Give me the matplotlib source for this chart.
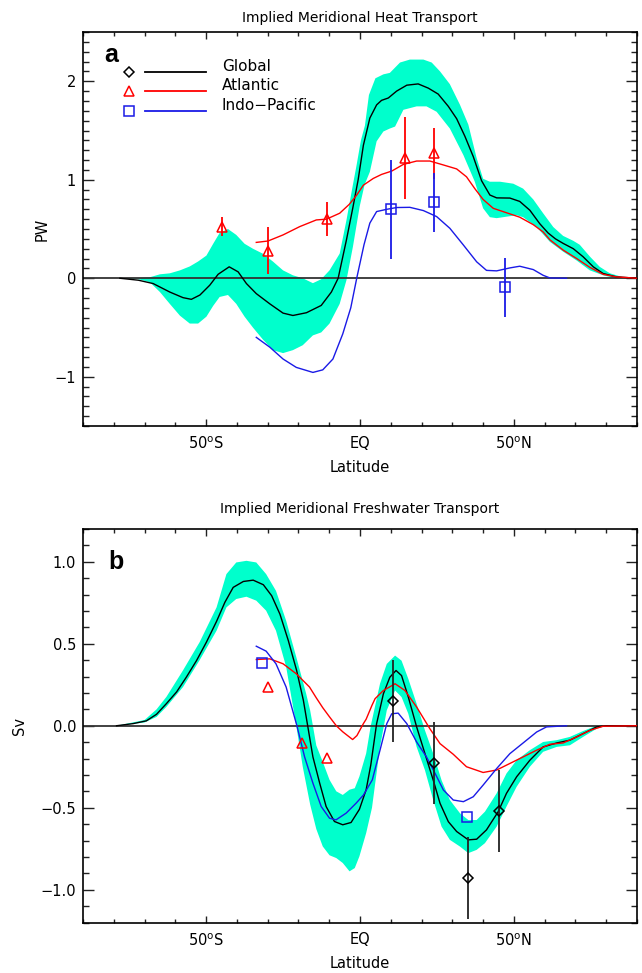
import numpy as np
import matplotlib
matplotlib.use("Agg")
import matplotlib.pyplot as plt
from matplotlib.ticker import MultipleLocator, FixedLocator, FixedFormatter

# ---------------- Panel a : heat transport (PW) ----------------
a_glob_lat = [-78, -72, -67.2, -61.8, -57.5, -54.8, -52, -48.8, -46.1, -42.5, -39.6, -36.9, -33.7,
              -29.3, -25, -21.8, -17.4, -12.6, -9.3, -7.1, -4.4, -2.3, -0.6, 1.1, 3.2, 5.4, 7.0, 9.2,
              11.9, 15.2, 18.9, 22.2, 25.4, 28.7, 31.4, 34.1, 36.8, 39.5, 42.2, 44.4, 48.7, 51.9, 55.2,
              58.4, 61.1, 63.5, 66, 69.3, 72.5, 75.8, 79, 83.3, 90]
a_glob_val = [0.0, -0.02, -0.054, -0.14, -0.197, -0.214, -0.17, -0.07, 0.04, 0.116, 0.065, -0.054, -0.156,
              -0.26, -0.354, -0.378, -0.35, -0.276, -0.14, 0.0, 0.39, 0.72, 1.0, 1.35, 1.626, 1.76, 1.806, 1.83,
              1.90, 1.96, 1.973, 1.93, 1.87, 1.745, 1.62, 1.44, 1.235, 0.99, 0.845, 0.816, 0.814, 0.78, 0.69,
              0.554, 0.46, 0.40, 0.354, 0.30, 0.218, 0.116, 0.048, 0.014, 0.0]

a_atl_lat = [-33.7, -29.9, -25, -19.6, -14.2, -10.9, -6.6, -3.5, -1.1, 1.1, 4.3, 7.0, 10.3, 14.1, 18.4,
             22.7, 27.1, 31.4, 34.6, 37.3, 40, 43.3, 47.6, 51.9, 56.3, 59.5, 61.7, 66, 70.4, 74.7, 79, 83.3, 90]
a_atl_val = [0.364, 0.378, 0.44, 0.524, 0.592, 0.60, 0.66, 0.75, 0.843, 0.945, 1.013, 1.054, 1.088, 1.156, 1.19,
             1.19, 1.15, 1.11, 1.03, 0.91, 0.80, 0.71, 0.665, 0.62, 0.544, 0.47, 0.39, 0.286, 0.20, 0.11, 0.04, 0.014, 0.0]

a_ip_lat = [-33.7, -29.3, -25, -20.7, -15.3, -12.1, -8.8, -5.6, -3.0, -1.0, 1.3, 3.2, 5.4, 8.7, 11.9, 16.2,
            20.6, 24.9, 29.2, 33.6, 37.9, 41.1, 44.4, 48.7, 51.9, 56.3, 59.5, 61.7, 67.1]
a_ip_val = [-0.60, -0.70, -0.82, -0.905, -0.956, -0.93, -0.82, -0.565, -0.30, 0.01, 0.34, 0.56, 0.677, 0.70,
            0.718, 0.72, 0.687, 0.626, 0.507, 0.337, 0.167, 0.08, 0.075, 0.105, 0.122, 0.088, 0.03, 0.003, 0.0]

a_band_up_lat = [-78, -72, -68.3, -65, -61.8, -58.5, -55.3, -52.6, -49.9, -47.7, -45.6, -42.9, -40.2, -37.5,
                 -34.8, -31.6, -28.3, -25, -21.8, -18.6, -15.3, -12.6, -9.9, -6.6, -4.4, -2.3, -1.1, 0.3, 1.6,
                 2.9, 5.0, 7.6, 9.7, 13, 16.2, 20.6, 23.3, 26, 29.2, 32.5, 35.2, 37.9, 40, 42.2, 45.5, 49.8,
                 53, 56.3, 59.5, 62.8, 66, 69.3, 71.4, 74.7, 77.9, 81.2, 85.5, 90]
a_band_up_val = [0.0, 0.0, 0.01, 0.04, 0.05, 0.08, 0.12, 0.17, 0.23, 0.35, 0.46, 0.50, 0.44, 0.35,
                 0.30, 0.25, 0.17, 0.08, 0.03, 0.0, -0.05, -0.01, 0.08, 0.25, 0.59, 0.95, 1.15, 1.40, 1.55,
                 1.86, 2.03, 2.07, 2.085, 2.19, 2.22, 2.22, 2.19, 2.10, 1.97, 1.76, 1.56, 1.22, 1.01, 0.98, 0.98, 0.96,
                 0.91, 0.80, 0.66, 0.52, 0.43, 0.38, 0.34, 0.22, 0.116, 0.05, 0.01, 0.0]
a_band_lo_lat = [-78, -72, -68.3, -65, -61.8, -58.5, -55.3, -52.6, -49.9, -47.7, -45.6, -42.9, -40.2, -37.5,
                 -34.8, -31.6, -28.3, -25, -21.8, -18.6, -15.3, -12.6, -9.9, -6.6, -4.4, -2.3, -0.1, 1.5,
                 3.2, 5.4, 7.6, 9.7, 11.4, 14.1, 18.4, 21.6, 24.9, 29.2, 33.6, 37.3, 40, 42.2, 44.4, 47.6,
                 50.9, 53, 57.4, 61.7, 66, 70.4, 74.7, 79, 83, 90]
a_band_lo_val = [0.0, -0.01, -0.04, -0.14, -0.26, -0.38, -0.46, -0.46, -0.39, -0.28, -0.19, -0.17, -0.26, -0.39,
                 -0.50, -0.62, -0.73, -0.76, -0.73, -0.68, -0.58, -0.55, -0.46, -0.26, -0.02, 0.32, 0.73, 0.95,
                 1.08, 1.39, 1.49, 1.52, 1.54, 1.71, 1.745, 1.745, 1.69, 1.52, 1.25, 0.98, 0.71, 0.62, 0.61, 0.625,
                 0.64, 0.62, 0.52, 0.37, 0.27, 0.18, 0.08, 0.03, 0.0, 0.0]

a_obs_atl_lat = [-44.9, -29.9, -10.8, 14.6, 24.1]
a_obs_atl_val = [0.524, 0.28, 0.60, 1.22, 1.27]
a_obs_atl_err = [0.10, 0.24, 0.17, 0.42, 0.26]
a_obs_ip_lat = [10.0, 24.1, 47.1]
a_obs_ip_val = [0.70, 0.77, -0.09]
a_obs_ip_err = [0.50, 0.30, 0.30]

# ---------------- Panel b : freshwater transport (Sv) ----------------
b_glob_lat = [-79.1, -73.7, -69.4, -66.1, -62.9, -59.6, -56.4, -53.1, -49.9, -46.6, -43.9, -41.2, -37.9,
              -34.7, -31.4, -28.7, -26.0, -23.3, -20.6, -18.4, -17.0, -15.3, -13.1, -11.0, -8.3, -5.6, -2.9,
              -0.2, 2.0, 3.5, 5.4, 7.6, 9.7, 11.7, 13.5, 15.7, 18.4, 21.1, 23.8, 26, 28.7, 31.4, 35.2, 37.9,
              41.1, 44.9, 47.6, 50.9, 55.2, 59.5, 63.9, 68.2, 72.5, 76.9, 80.1, 90]
b_glob_val = [0.0, 0.013, 0.03, 0.07, 0.135, 0.206, 0.297, 0.398, 0.51, 0.637, 0.753, 0.844, 0.88,
              0.888, 0.86, 0.793, 0.68, 0.52, 0.338, 0.155, 0.0, -0.19, -0.35, -0.493, -0.584, -0.604, -0.59,
              -0.51, -0.39, -0.24, 0.013, 0.195, 0.296, 0.337, 0.306, 0.175, -0.007, -0.17, -0.332, -0.473,
              -0.585, -0.645, -0.696, -0.692, -0.635, -0.524, -0.412, -0.311, -0.21, -0.129, -0.105, -0.088,
              -0.048, -0.007, 0.0, 0.0]

b_atl_lat = [-33.7, -29.3, -25, -20.7, -16.4, -14.2, -12.1, -9.9, -7.7, -5.6, -2.4, -1.0, 1.1, 2.0, 3.9,
             4.9, 7.6, 11.4, 14.6, 18.4, 22.7, 26, 30.3, 34.6, 40, 44.4, 48.7, 53, 57.4, 61.7, 66, 70.4,
             74.7, 79, 90]
b_atl_val = [0.404, 0.408, 0.378, 0.317, 0.236, 0.17, 0.11, 0.054, 0.0, -0.037, -0.084, -0.06, 0.013, 0.04,
             0.125, 0.165, 0.215, 0.256, 0.215, 0.114, -0.018, -0.109, -0.174, -0.25, -0.285, -0.27, -0.23,
             -0.19, -0.149, -0.113, -0.105, -0.068, -0.028, -0.003, 0.0]

b_ip_lat = [-33.7, -30.5, -27.3, -24, -20.5, -18, -15.3, -12.6, -9.9, -7.8, -4.5, -1.3, 1.1, 4.0, 6.5,
            8.7, 10.3, 12.4, 15.2, 18.4, 21.6, 24.4, 27.1, 30.3, 33.6, 36.8, 40, 44.4, 48.7, 53, 57.4,
            60.6, 67.1]
b_ip_val = [0.485, 0.455, 0.378, 0.236, 0.0, -0.19, -0.35, -0.493, -0.564, -0.574, -0.533, -0.473, -0.423,
            -0.33, -0.149, 0.013, 0.073, 0.077, 0.013, -0.099, -0.19, -0.291, -0.392, -0.453, -0.463, -0.433,
            -0.362, -0.261, -0.17, -0.105, -0.038, -0.007, 0.0]

b_band_up_lat = [-79, -70, -66.1, -62.9, -57.5, -52.1, -46.6, -43.4, -40.2, -36.9, -33.7, -30.5, -27.3,
                 -24, -20.7, -17.5, -16.2, -15.3, -14.2, -12.1, -9.9, -7.7, -5.6, -3.4, -1.7, -0.2, 2.0,
                 3.5, 6.5, 8.7, 11.4, 13.5, 15.7, 18.4, 21.1, 23.8, 26.5, 29.2, 32.5, 35.2, 37.9, 40.6,
                 44.4, 47.6, 50.9, 55.2, 59.5, 63.9, 68.2, 72.5, 76.9, 90]
b_band_up_val = [0.0, 0.035, 0.10, 0.176, 0.338, 0.51, 0.722, 0.925, 0.996, 1.006, 0.996, 0.925, 0.823,
                 0.641, 0.419, 0.196, 0.094, 0.0, -0.12, -0.22, -0.33, -0.40, -0.422, -0.39, -0.381, -0.31,
                 -0.169, 0.0, 0.256, 0.377, 0.428, 0.397, 0.286, 0.134, -0.028, -0.17, -0.332, -0.453, -0.534,
                 -0.575, -0.575, -0.524, -0.412, -0.291, -0.21, -0.149, -0.099, -0.088, -0.068, -0.032, 0.0, 0.0]
b_band_lo_lat = [-79, -70, -66.1, -62.9, -57.5, -52.1, -46.6, -43.4, -40.2, -36.9, -33.7, -30.5, -27.3,
                 -24, -20.7, -18.6, -16.2, -14.2, -12.1, -9.9, -7.7, -5.6, -3.4, -1.7, -0.2, 2.0, 3.9,
                 6.5, 8.7, 11.4, 13.5, 15.7, 18.4, 21.1, 23.8, 26.5, 29.2, 32.5, 35.2, 37.9, 40.6, 44.4,
                 47.6, 50.9, 55.2, 59.5, 63.9, 68.2, 72.5, 76.9, 80.1, 90]
b_band_lo_val = [0.0, 0.02, 0.054, 0.115, 0.236, 0.40, 0.58, 0.722, 0.773, 0.787, 0.763, 0.702, 0.58,
                 0.36, 0.0, -0.25, -0.48, -0.63, -0.736, -0.79, -0.807, -0.837, -0.888, -0.868, -0.797, -0.655,
                 -0.50, -0.129, 0.094, 0.215, 0.175, 0.073, -0.129, -0.271, -0.453, -0.615, -0.696, -0.737,
                 -0.777, -0.757, -0.716, -0.615, -0.493, -0.372, -0.25, -0.159, -0.129, -0.119, -0.068, -0.018,
                 0.0, 0.0]

b_obs_glob_lat = [10.6, 24.1, 35.2, 45.1]
b_obs_glob_val = [0.148, -0.23, -0.927, -0.518]
b_obs_glob_err = [0.25, 0.25, 0.25, 0.25]
b_obs_atl_lat = [-29.9, -19.0, -10.8]
b_obs_atl_val = [0.236, -0.104, -0.195]
b_obs_ip_lat = [-31.8, 34.9]
b_obs_ip_val = [0.382, -0.558]

# tick labels
x_major = [-50, 0, 50]
x_labels = ["50$^{\\rm o}$S", "EQ", "50$^{\\rm o}$N"]
legend_names = ["Global", "Atlantic", "Indo\u2212Pacific"]

CYAN = "#00FFCC"
RED = "#FF0000"
BLUE = "#1A1AE6"
BLACK = "#000000"

plt.rcParams['font.family'] = ['DejaVu Sans']
plt.rcParams['axes.unicode_minus'] = True

fig = plt.figure(figsize=(6.42, 9.73), dpi=100)
W, H = 642.0, 973.0
ax_a = fig.add_axes([83 / W, 1 - 426 / H, 554 / W, 394 / H])
ax_b = fig.add_axes([83 / W, 1 - 922.5 / H, 554 / W, 393.5 / H])


def style_axes(ax, ylim, ymaj, yfmt, ylabel):
    ax.set_xlim(-90, 90)
    ax.set_ylim(*ylim)
    ax.xaxis.set_major_locator(FixedLocator(x_major))
    ax.xaxis.set_major_formatter(FixedFormatter(x_labels))
    ax.xaxis.set_minor_locator(MultipleLocator(10))
    ax.yaxis.set_major_locator(MultipleLocator(ymaj))
    ax.yaxis.set_minor_locator(MultipleLocator(0.1))
    ax.yaxis.set_major_formatter(matplotlib.ticker.FuncFormatter(
        lambda v, p: (yfmt % v).replace('-', '\u2212') if abs(v) > 1e-9 else yfmt % 0))
    ax.tick_params(axis='both', which='both', direction='in', top=True, right=True,
                   labelsize=10.5, width=1.0, color='#222222')
    ax.tick_params(axis='y', which='major', length=7.7, pad=5)
    ax.tick_params(axis='y', which='minor', length=4.1)
    ax.tick_params(axis='x', which='major', length=5.0, pad=7)
    ax.tick_params(axis='x', which='minor', length=2.7)
    for s in ax.spines.values():
        s.set_linewidth(1.2)
    ax.set_xlabel("Latitude", fontsize=10.5, labelpad=5.5)
    ax.set_ylabel(ylabel, fontsize=10.5)
    ax.axhline(0, color='#333333', lw=1.3, zorder=2)


# ---- panel a ----
ax = ax_a
ax.fill(np.concatenate([a_band_up_lat, a_band_lo_lat[::-1]]),
        np.concatenate([a_band_up_val, a_band_lo_val[::-1]]),
        color=CYAN, lw=0, zorder=1)
style_axes(ax, (-1.5, 2.5), 1, "%d", "PW")
ax.yaxis.set_label_coords(-(83 - 50) / 554, 0.5)
ax.plot(a_glob_lat, a_glob_val, color=BLACK, lw=1.0, zorder=3)
ax.plot(a_atl_lat, a_atl_val, color=RED, lw=1.0, zorder=3)
ax.plot(a_ip_lat, a_ip_val, color=BLUE, lw=1.0, zorder=3)
ax.errorbar(a_obs_atl_lat, a_obs_atl_val, yerr=a_obs_atl_err, fmt='none', ecolor=RED,
            elinewidth=1.3, capsize=0, zorder=4)
ax.plot(a_obs_atl_lat, a_obs_atl_val, ls='none', marker='^', ms=7, mfc='none', mec=RED, mew=1.1, zorder=5)
ax.errorbar(a_obs_ip_lat, a_obs_ip_val, yerr=a_obs_ip_err, fmt='none', ecolor=BLUE,
            elinewidth=1.3, capsize=0, zorder=4)
ax.plot(a_obs_ip_lat, a_obs_ip_val, ls='none', marker='s', ms=6.5, mfc='none', mec=BLUE, mew=1.1, zorder=5)

# legend (manual, in axes fraction)
leg_cols = [BLACK, RED, BLUE]
leg_marks = ['D', '^', 's']
leg_ms = [5, 7, 6.5]
leg_y = [0.8977, 0.8503, 0.8003]
for name, c, m, ms_, yy in zip(legend_names, leg_cols, leg_marks, leg_ms, leg_y):
    ax.plot([0.0836], [yy], transform=ax.transAxes, marker=m, ms=ms_, mfc='none', mec=c, mew=1.1,
            ls='none', clip_on=False, zorder=6)
    ax.plot([0.1119, 0.2220], [yy, yy], transform=ax.transAxes, color=c, lw=1.3, zorder=6)
    ax.text(0.2504, yy + 0.014, name, transform=ax.transAxes, fontsize=11, va='center', ha='left')

fig.text(104 / W, 1 - 62 / H, "a", fontsize=18, fontweight='bold', family='Liberation Sans',
         ha='left', va='baseline')
fig.text(360 / W, 1 - 18 / H, "Implied Meridional Heat Transport", fontsize=10, ha='center', va='center')

# ---- panel b ----
ax = ax_b
ax.fill(np.concatenate([b_band_up_lat, b_band_lo_lat[::-1]]),
        np.concatenate([b_band_up_val, b_band_lo_val[::-1]]),
        color=CYAN, lw=0, zorder=1)
style_axes(ax, (-1.2, 1.2), 0.5, "%.1f", "Sv")
ax.yaxis.set_label_coords(-(83 - 27) / 554, 0.5)
ax.plot(b_glob_lat, b_glob_val, color=BLACK, lw=1.0, zorder=3)
ax.plot(b_atl_lat, b_atl_val, color=RED, lw=1.0, zorder=3)
ax.plot(b_ip_lat, b_ip_val, color=BLUE, lw=1.0, zorder=3)
ax.errorbar(b_obs_glob_lat, b_obs_glob_val, yerr=b_obs_glob_err, fmt='none', ecolor='#222222',
            elinewidth=1.3, capsize=0, zorder=4)
ax.plot(b_obs_glob_lat, b_obs_glob_val, ls='none', marker='D', ms=5, mfc='none', mec=BLACK, mew=1.1, zorder=5)
ax.plot(b_obs_atl_lat, b_obs_atl_val, ls='none', marker='^', ms=7, mfc='none', mec=RED, mew=1.1, zorder=5)
ax.plot(b_obs_ip_lat, b_obs_ip_val, ls='none', marker='s', ms=6.5, mfc='none', mec=BLUE, mew=1.1, zorder=5)

fig.text(108 / W, 1 - 569 / H, "b", fontsize=18, fontweight='bold', family='Liberation Sans',
         ha='left', va='baseline')
fig.text(360 / W, 1 - 509 / H, "Implied Meridional Freshwater Transport", fontsize=10,
         ha='center', va='center')

fig.savefig("out.png", dpi=100)
